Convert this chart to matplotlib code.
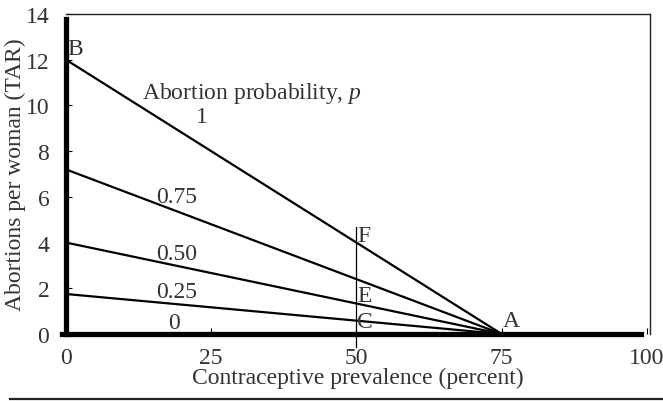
import numpy as np
import matplotlib
matplotlib.use("Agg")
import matplotlib.pyplot as plt

# DATA

prevalence = [0, 75]          # contraceptive prevalence (percent)
probs = ["1", "0.75", "0.50", "0.25", "0"]
tar_at_zero = [12.0, 7.2, 4.0, 1.75, 0.0]   # abortions per woman at 0 percent
x_ticks = [0, 25, 50, 75, 100]
y_ticks = [0, 2, 4, 6, 8, 10, 12, 14]

mark_x = 50
mark_top = 4.7

# label positions (data coords)
prob_label_xy = [(23.4, 9.5), (19.1, 6.0), (19.1, 3.5), (19.1, 1.84), (18.6, 0.5)]

plt.rcParams['font.family'] = ['Liberation Serif', 'DejaVu Serif']
plt.rcParams['mathtext.fontset'] = 'custom'
plt.rcParams['mathtext.it'] = 'Liberation Serif:italic'
plt.rcParams['mathtext.rm'] = 'Liberation Serif'
TXT = "#333333"
FS = 17

fig = plt.figure(figsize=(6.63, 4.02), dpi=100)
ax = fig.add_axes([0.0995, 0.1667, 0.8805, 0.796])

for tar0 in tar_at_zero[:-1]:
    ax.plot(prevalence, [tar0, 0], color="black", lw=1.6, solid_capstyle="butt")

# vertical marker at 50 percent
ax.plot([mark_x, mark_x], [-0.55, mark_top], color="black", lw=0.9, clip_on=False)

for lab, (lx, ly) in zip(probs, prob_label_xy):
    ax.text(lx, ly, lab, fontsize=FS, color=TXT, ha="center", va="center")

ax.text(13.1, 10.55, "Abortion probability, $p$", fontsize=FS, color=TXT, va="center")

ax.text(0.3, 12.5, "B", fontsize=FS, color=TXT, va="center")
ax.text(75.2, 0.57, "A", fontsize=FS, color=TXT, va="center")
ax.text(50.1, 4.3, "F", fontsize=FS, color=TXT, va="center")
ax.text(50.1, 1.67, "E", fontsize=FS, color=TXT, va="center")
ax.text(50.1, 0.53, "C", fontsize=FS, color=TXT, va="center")

ax.set_xlim(0, 100.5)
ax.set_ylim(0, 14)
ax.set_xticks(x_ticks)
ax.set_yticks(y_ticks)
ax.tick_params(direction="in", length=4, width=0.8, labelsize=FS, labelcolor=TXT,
               pad=9.5)
ax.tick_params(axis="y", pad=12)

ax.spines["left"].set_linewidth(3.8)
ax.spines["bottom"].set_linewidth(3.8)
ax.spines["top"].set_linewidth(1.0)
ax.spines["right"].set_linewidth(1.0)
ax.spines["top"].set_color("#222222")
ax.spines["right"].set_color("#222222")
ax.spines["bottom"].set_bounds(-0.7, 99)
ax.spines["left"].set_bounds(0, 13.8)

ax.set_xlabel("Contraceptive prevalence (percent)", fontsize=FS, color=TXT, labelpad=-1)
ax.set_ylabel("Abortions per woman (TAR)", fontsize=FS, color=TXT, labelpad=0)

# rule under the figure
fig.add_artist(plt.Line2D([0.015, 1.0], [0.006, 0.006], color="#222222", lw=1.6))

fig.savefig("out.png", dpi=100)
